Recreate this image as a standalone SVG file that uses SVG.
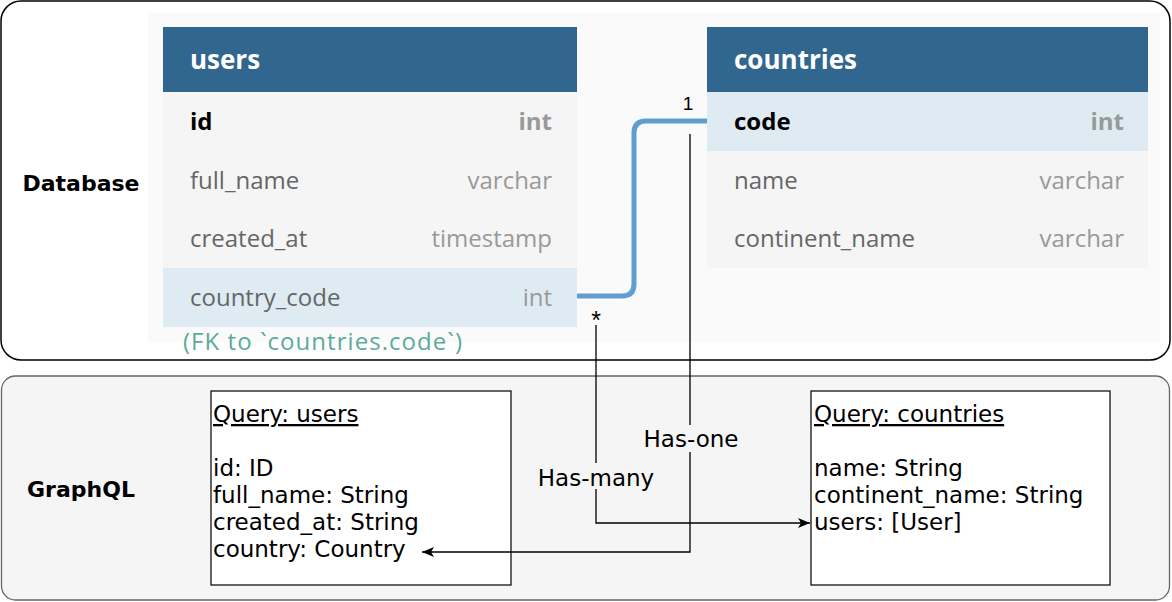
<svg xmlns="http://www.w3.org/2000/svg" width="1172" height="602" viewBox="0 0 1172 602">
<defs>
<style>
.lbl{font-family:"DejaVu Sans",Verdana,sans-serif;font-weight:bold;font-size:22px;fill:#000}
.q{font-family:"DejaVu Sans",Verdana,sans-serif;font-size:23px;fill:#000}
.hd{font-family:"Open Sans",sans-serif;font-weight:bold;font-size:26px;fill:#fff}
.fn{font-family:"Open Sans",sans-serif;font-size:24px;fill:#666}
.ft{font-family:"Open Sans",sans-serif;font-size:24px;fill:#999;text-anchor:end}
.pk{font-weight:bold;fill:#000}
.pkt{font-weight:bold}
.card{font-family:"Liberation Sans",Arial,sans-serif;font-size:19px;fill:#000;text-anchor:middle}
.star{font-size:25px}
.conn{fill:none;stroke:#000;stroke-width:1.3}
</style>
<marker id="arr" markerUnits="userSpaceOnUse" markerWidth="14" markerHeight="12" refX="12" refY="6" orient="auto">
<path d="M0,1 L12,6 L0,11 L3,6 z" fill="#000"/>
</marker>
</defs>

<g id="database">
<rect x="1" y="1" width="1169" height="359" rx="20" ry="20" fill="#fff" stroke="#000" stroke-width="1.5"/>
<rect x="148" y="13" width="1012" height="329" fill="#fafafa"/>
<text class="lbl" x="81" y="191" text-anchor="middle">Database</text>
</g>

<g id="graphql">
<rect x="1.5" y="376" width="1168" height="224" rx="14" ry="14" fill="#f5f5f5" stroke="#666" stroke-width="1.3"/>
<text class="lbl" x="81" y="497" text-anchor="middle">GraphQL</text>
</g>

<g id="users-table">
<rect x="163" y="27" width="414" height="65" fill="#31668f"/>
<rect x="163" y="92" width="414" height="176" fill="#f5f5f5"/>
<rect x="163" y="268" width="414" height="59" fill="#deebf3"/>
<text class="hd" x="190" y="69">users</text>
<text class="fn pk" x="190" y="130">id</text>
<text class="ft pkt" x="552" y="130">int</text>
<text class="fn" x="190" y="189">full_name</text>
<text class="ft" x="552" y="189">varchar</text>
<text class="fn" x="190" y="247">created_at</text>
<text class="ft" x="552" y="247">timestamp</text>
<text class="fn" x="190" y="306">country_code</text>
<text class="ft" x="552" y="306">int</text>
<text x="183" y="350" font-family="'Open Sans',sans-serif" font-size="24px" fill="#5daa9a" textLength="279" lengthAdjust="spacing">(FK to `countries.code`)</text>
</g>

<g id="countries-table">
<rect x="707" y="27" width="441" height="65" fill="#31668f"/>
<rect x="707" y="92" width="441" height="59" fill="#deebf3"/>
<rect x="707" y="151" width="441" height="117" fill="#f5f5f5"/>
<text class="hd" x="734" y="69">countries</text>
<text class="fn pk" x="734" y="130">code</text>
<text class="ft pkt" x="1124" y="130">int</text>
<text class="fn" x="734" y="189">name</text>
<text class="ft" x="1124" y="189">varchar</text>
<text class="fn" x="734" y="247">continent_name</text>
<text class="ft" x="1124" y="247">varchar</text>
</g>

<g id="query-users">
<rect x="211" y="391" width="300" height="194" fill="#fff" stroke="#000" stroke-width="1.2"/>
<text class="q" x="213" y="422" text-decoration="underline">Query: users</text>
<text class="q" x="213" y="476">id: ID</text>
<text class="q" x="213" y="503">full_name: String</text>
<text class="q" x="213" y="530">created_at: String</text>
<text class="q" x="213" y="557">country: Country</text>
</g>

<g id="query-countries">
<rect x="811" y="391" width="299" height="194" fill="#fff" stroke="#000" stroke-width="1.2"/>
<text class="q" x="814" y="422" text-decoration="underline">Query: countries</text>
<text class="q" x="814" y="476">name: String</text>
<text class="q" x="814" y="503">continent_name: String</text>
<text class="q" x="814" y="530">users: [User]</text>
</g>

<g id="connectors">
<path d="M577,296 H622 Q634,296 634,284 V133 Q634,121 646,121 H707" fill="none" stroke="#629dd1" stroke-width="5"/>
<text class="card" x="688" y="110">1</text>
<text class="card star" x="596" y="329">*</text>
<path class="conn" d="M690,134 V552 H422" marker-end="url(#arr)"/>
<path class="conn" d="M596,325 V523 H810" marker-end="url(#arr)"/>
<rect x="642" y="425" width="98" height="27" fill="#f5f5f5"/>
<text class="q" x="691" y="447" text-anchor="middle">Has-one</text>
<rect x="537" y="463" width="119" height="26" fill="#f5f5f5"/>
<text class="q" x="596" y="486" text-anchor="middle">Has-many</text>
</g>
</svg>
